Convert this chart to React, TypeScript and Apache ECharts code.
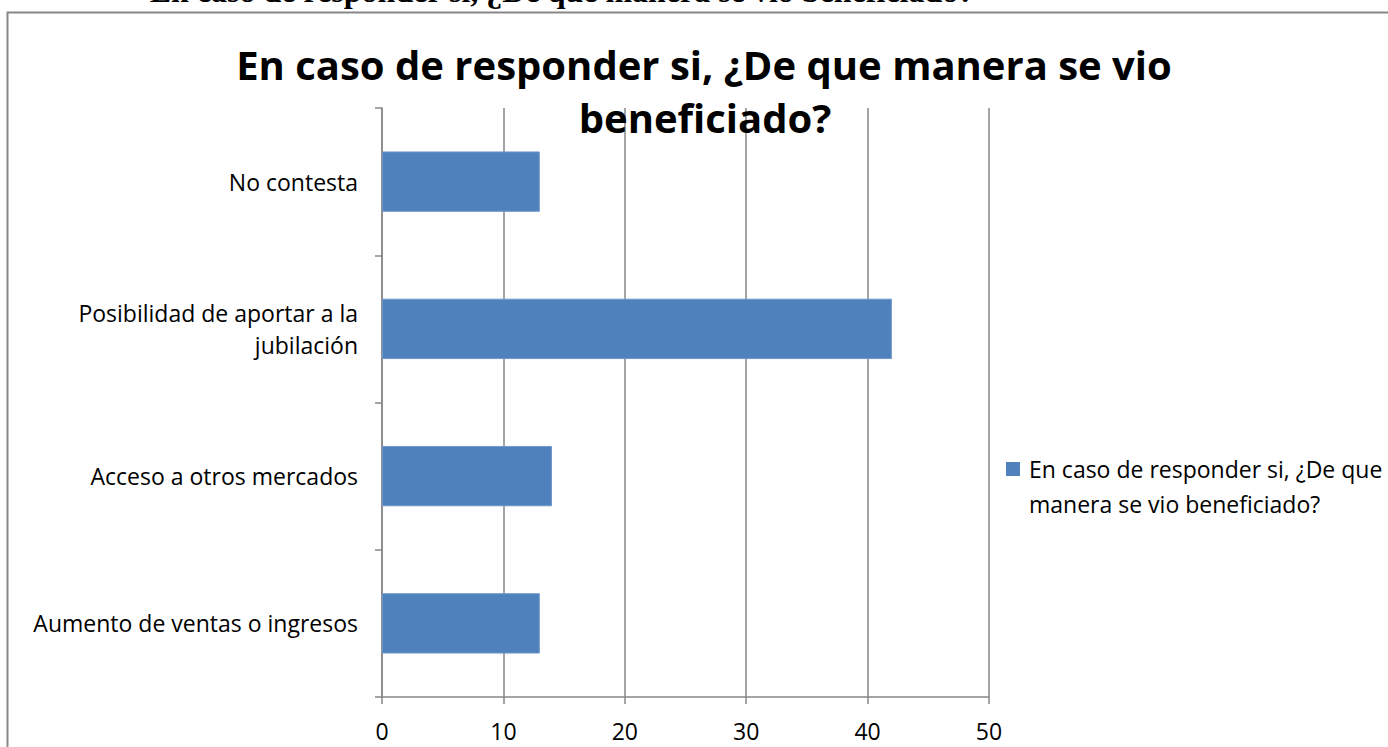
import React, { useEffect, useRef } from "react";
import * as echarts from "echarts";

const categories = [
  "No contesta",
  "Posibilidad de aportar a la\njubilación",
  "Acceso a otros mercados",
  "Aumento de ventas o ingresos",
];
const values = [13, 42, 14, 13];
const seriesName = "En caso de responder si, ¿De que manera se vio beneficiado?";
const titleLines = ["En caso de responder si, ¿De que manera se vio", "beneficiado?"];
const legendLines = ["En caso de responder si, ¿De que", "manera se vio beneficiado?"];
const xMin = 0;
const xMax = 50;
const xStep = 10;

const FONT = "'Open Sans', Lato, sans-serif";
const GRAY = "#878787";
const BAR = "#4F81BD";

export default function App() {
  const ref = useRef<HTMLDivElement>(null);
  useEffect(() => {
    if (!ref.current) return;
    const chart = echarts.init(ref.current, undefined, { renderer: "svg" });
    chart.setOption({
      animation: false,
      backgroundColor: "#ffffff",
      grid: { left: 382, right: 399, top: 108, bottom: 50, containLabel: false },
      xAxis: {
        type: "value",
        min: xMin,
        max: xMax,
        interval: xStep,
        axisLine: { show: true, lineStyle: { color: GRAY, width: 1.5 } },
        axisTick: { show: true, length: 7, lineStyle: { color: GRAY, width: 1.5 } },
        splitLine: { show: true, lineStyle: { color: GRAY, width: 1.5 } },
        axisLabel: { color: "#000", fontSize: 23, fontFamily: FONT, margin: 22 },
      },
      yAxis: {
        type: "category",
        inverse: true,
        data: categories,
        axisLine: { show: true, lineStyle: { color: GRAY, width: 1.5 } },
        axisTick: { show: true, length: 7, interval: 0, lineStyle: { color: GRAY, width: 1.5 } },
        axisLabel: {
          color: "#000",
          fontSize: 23,
          fontFamily: FONT,
          margin: 24,
          lineHeight: 32,
          align: "right",
          interval: 0,
        },
      },
      series: [
        {
          name: seriesName,
          type: "bar",
          data: values,
          barCategoryGap: "59%",
          itemStyle: { color: BAR, borderColor: "#6f97c9", borderWidth: 1 },
        },
      ],
      graphic: [
        {
          type: "rect",
          silent: true,
          z: -1,
          shape: { x: 7.5, y: 12.5, width: 1500, height: 900 },
          style: { fill: "none", stroke: GRAY, lineWidth: 2 },
        },
        {
          type: "text",
          x: 562,
          y: 7,
          style: {
            text: seriesName,
            font: "bold 32px 'Liberation Serif', serif",
            fill: "#000",
            align: "center",
            verticalAlign: "bottom",
          },
        },
        {
          type: "text",
          x: 704,
          y: 64,
          style: {
            text: titleLines[0],
            font: "bold 40px " + FONT,
            fill: "#000",
            align: "center",
            verticalAlign: "middle",
          },
        },
        {
          type: "text",
          x: 705,
          y: 117,
          z: 10,
          style: {
            text: titleLines[1],
            font: "bold 40px " + FONT,
            fill: "#000",
            align: "center",
            verticalAlign: "middle",
          },
        },
        {
          type: "rect",
          shape: { x: 1006, y: 462, width: 14, height: 14 },
          style: { fill: BAR },
        },
        {
          type: "text",
          x: 1029,
          y: 469,
          style: {
            text: legendLines[0],
            font: "23px " + FONT,
            fill: "#000",
            align: "left",
            verticalAlign: "middle",
          },
        },
        {
          type: "text",
          x: 1029,
          y: 504,
          style: {
            text: legendLines[1],
            font: "23px " + FONT,
            fill: "#000",
            align: "left",
            verticalAlign: "middle",
          },
        },
      ],
    });
    return () => chart.dispose();
  }, []);
  return (
    <div
      ref={ref}
      style={{ position: "fixed", left: 0, top: 0, width: 1388, height: 747 }}
    />
  );
}
